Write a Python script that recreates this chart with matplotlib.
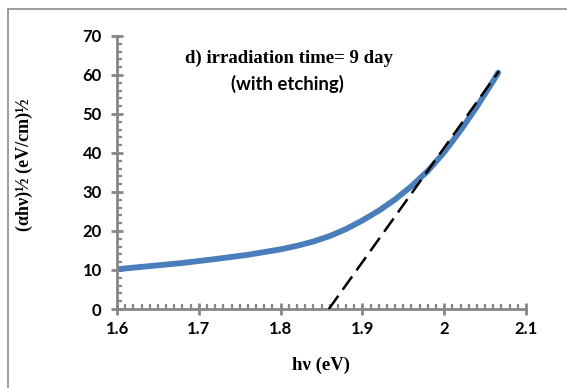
import matplotlib
matplotlib.use("Agg")
import matplotlib.pyplot as plt
from matplotlib.lines import Line2D
from matplotlib.ticker import MultipleLocator

# Tauc plot data: photon energy (eV) and (alpha*h*nu)^1/2
hv = [1.60, 1.64, 1.68, 1.70, 1.72, 1.76, 1.80, 1.82, 1.84, 1.86, 1.88,
      1.90, 1.92, 1.94, 1.96, 1.98, 2.00, 2.02, 2.04, 2.06, 2.066]
tauc = [10.2, 11.0, 11.8, 12.3, 12.8, 13.9, 15.3, 16.2, 17.3, 18.7, 20.5,
        22.7, 25.2, 28.1, 31.5, 35.4, 40.2, 45.8, 51.9, 58.5, 60.6]

# Linear extrapolation to the energy axis
fit_hv = [1.859, 2.067]
fit_val = [0.0, 61.0]

xticks = [1.6, 1.7, 1.8, 1.9, 2.0, 2.1]
xticklabels = ["1.6", "1.7", "1.8", "1.9", "2", "2.1"]
yticks = [0, 10, 20, 30, 40, 50, 60, 70]

W, H = 567, 388
fig = plt.figure(figsize=(W / 100, H / 100), dpi=100)
ax = fig.add_axes([117 / W, 1 - 309 / H, (526 - 117) / W, (309 - 36) / H])

ax.plot(hv, tauc, color="#4a7ebb", lw=4.2, solid_capstyle="round",
        solid_joinstyle="round", zorder=2)
ax.plot(fit_hv, fit_val, color="black", lw=1.8, linestyle=(0, (6.5, 3)), zorder=3)

ax.set_xlim(1.6, 2.1)
ax.set_ylim(0, 70)

gray = "#878787"
for side in ("top", "right"):
    ax.spines[side].set_visible(False)
for side in ("left", "bottom"):
    ax.spines[side].set_color(gray)
    ax.spines[side].set_linewidth(2.0)

ax.set_xticks(xticks)
ax.set_xticklabels(xticklabels)
ax.set_yticks(yticks)
ax.xaxis.set_minor_locator(MultipleLocator(0.01))
ax.yaxis.set_minor_locator(MultipleLocator(2))
ax.tick_params(which="major", direction="inout", length=8, width=2.0, color=gray,
               labelsize=12, pad=5)
ax.tick_params(which="minor", direction="in", length=3.5, width=1.6, color=gray)
ax.tick_params(axis="y", which="major", pad=7)
for lab in ax.get_xticklabels() + ax.get_yticklabels():
    lab.set_fontfamily("Lato")
    lab.set_fontweight("bold")

ax.set_xlabel("hν (eV)", fontfamily="Liberation Serif", fontweight="bold", fontsize=13.5)
ax.xaxis.set_label_coords(0.5, -0.175)
ax.set_ylabel("(αhν)½ (eV/cm)½", fontfamily="Liberation Serif", fontweight="bold",
              fontsize=13)
ax.yaxis.set_label_coords(-0.205, 0.53)

fig.text(289 / W, 1 - 58 / H, "d) irradiation time= 9 day", ha="center", va="center",
         fontfamily="Liberation Serif", fontweight="bold", fontsize=13.5)
fig.text(287 / W, 1 - 84 / H, "(with etching)", ha="center", va="center",
         fontfamily="Lato", fontweight="bold", fontsize=13.3)

# Chart-area frame (top and left edges)
fig.add_artist(Line2D([8 / W, 1.0], [1 - 9 / H, 1 - 9 / H], color="#8c8c8c", lw=1.2))
fig.add_artist(Line2D([8 / W, 8 / W], [0.0, 1 - 9 / H], color="#8c8c8c", lw=1.2))

fig.savefig("out.png", dpi=100)
